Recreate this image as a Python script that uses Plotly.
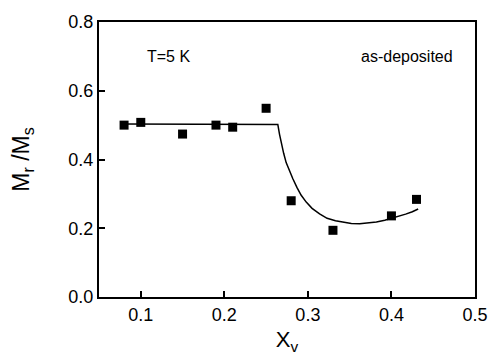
import plotly.graph_objects as go

# measured data
x_data = [0.08, 0.10, 0.15, 0.19, 0.21, 0.25, 0.28, 0.33, 0.40, 0.43]
y_data = [0.500, 0.508, 0.474, 0.500, 0.494, 0.549, 0.280, 0.194, 0.236, 0.284]

# fit curve
x_fit = [0.08, 0.150, 0.264, 0.266, 0.268, 0.271, 0.274, 0.278, 0.282, 0.287, 0.292, 0.298, 0.305, 0.314, 0.323, 0.333, 0.343, 0.352, 0.362, 0.372, 0.382, 0.392, 0.401, 0.409, 0.417, 0.425, 0.432]
y_fit = [0.503, 0.503, 0.502, 0.474, 0.449, 0.418, 0.391, 0.366, 0.344, 0.318, 0.296, 0.276, 0.258, 0.242, 0.229, 0.222, 0.217, 0.214, 0.213, 0.215, 0.218, 0.223, 0.229, 0.235, 0.241, 0.248, 0.256]

x_ticks = [0.1, 0.2, 0.3, 0.4, 0.5]
y_ticks = [0.0, 0.2, 0.4, 0.6, 0.8]

FONT = "Liberation Sans, Arial, sans-serif"

fig = go.Figure()
fig.add_trace(go.Scatter(x=x_fit, y=y_fit, mode="lines",
                         line=dict(color="black", width=1.5),
                         showlegend=False))
fig.add_trace(go.Scatter(x=x_data, y=y_data, mode="markers",
                         marker=dict(symbol="square", size=9, color="black"),
                         showlegend=False))

fig.update_layout(
    width=500, height=360,
    margin=dict(l=99, r=19, t=18, b=62),
    plot_bgcolor="white", paper_bgcolor="white",
    font=dict(family=FONT, color="black", size=18),
    xaxis=dict(range=[0.05, 0.5], tickvals=x_ticks, ticktext=["0.1", "0.2", "0.3", "0.4", "0.5"],
               ticks="inside", ticklen=6, tickwidth=1.5, tickcolor="black",
               showline=True, linecolor="black", linewidth=2, mirror=True,
               showgrid=False, zeroline=False,
               title=dict(text="X<sub>v</sub>", font=dict(size=22), standoff=8)),
    yaxis=dict(range=[0.0, 0.8], tickvals=y_ticks, ticktext=["0.0", "0.2", "0.4", "0.6", "0.8"],
               ticks="inside", ticklen=6, tickwidth=1.5, tickcolor="black",
               showline=True, linecolor="black", linewidth=2, mirror=True,
               showgrid=False, zeroline=False,
               title=dict(text="M<sub>r</sub> /M<sub>s</sub>", font=dict(size=23), standoff=32)),
    annotations=[
        dict(x=0.105, y=0.70, xref="x", yref="y", text="T=5 K", showarrow=False,
             xanchor="left", yanchor="middle", font=dict(size=16)),
        dict(x=0.476, y=0.70, xref="x", yref="y", text="as-deposited", showarrow=False,
             xanchor="right", yanchor="middle", font=dict(size=16)),
    ],
)

fig.write_html("out.html")
